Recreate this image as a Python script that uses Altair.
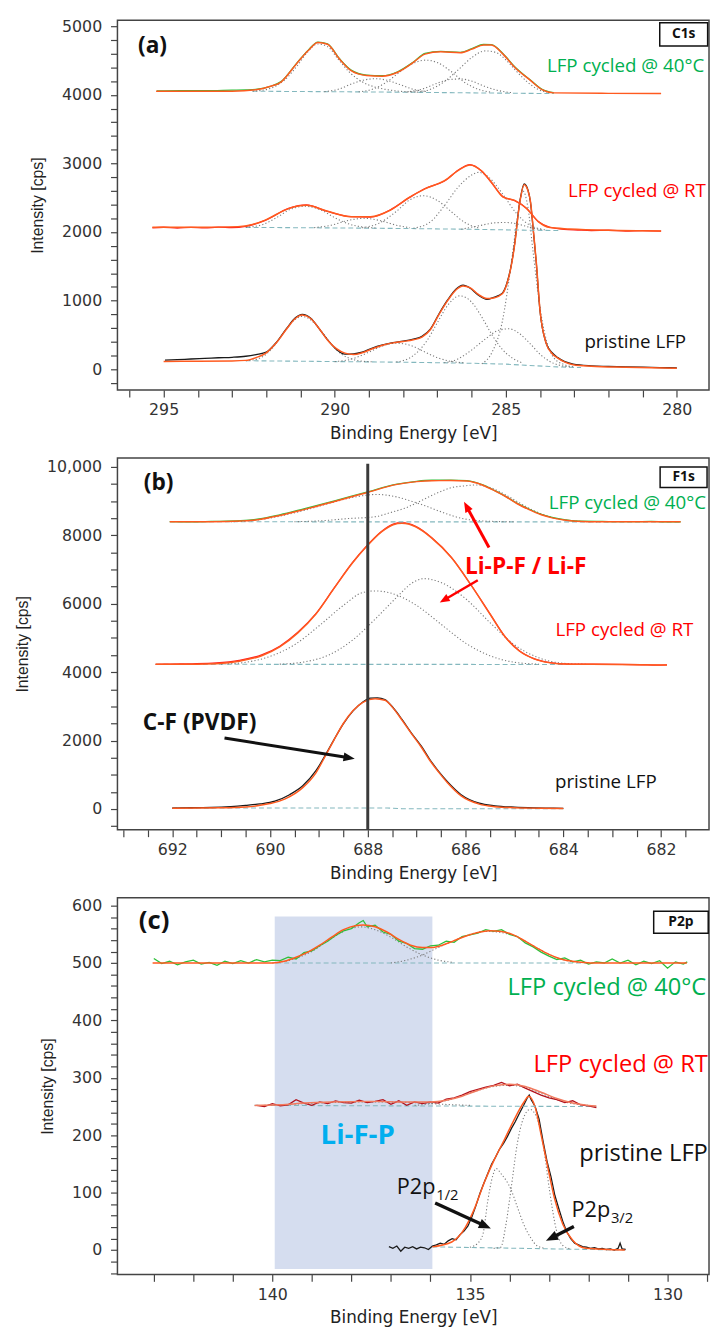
import altair as alt
import pandas as pd

FONT_AX = "DejaVu Sans"
FONT_TXT = "Open Sans"
C_FIT = "#ff5a1f"
C_GREEN = "#2fbf3a"
C_RED = "#ff1f1f"
C_DARKRED = "#b3121c"
C_RTFIT_C = "#f27a5e"
C_BLACK = "#1a1a1a"
C_COMP = "#7a7a7a"
C_BASE = "#84b8be"
T_GREEN = "#00b050"
T_RED = "#ff0000"
T_BLUE = "#00aeef"

# ---------------- Panel (a) C1s ----------------
A40_FIT = [(295.22, 4052), (294.0, 4051), (293.0, 4052), (292.26, 4076), (291.9, 4120), (291.57, 4186),
           (291.12, 4450), (290.78, 4641), (290.49, 4761), (290.21, 4737), (289.86, 4521), (289.52, 4353),
           (289.07, 4282), (288.61, 4272), (288.16, 4329), (287.7, 4473), (287.36, 4593), (286.9, 4626),
           (286.33, 4612), (285.99, 4665), (285.65, 4727), (285.42, 4727), (285.08, 4593), (284.74, 4401),
           (284.28, 4210), (283.94, 4076), (283.6, 4028), (282.0, 4021), (280.46, 4019)]
A40_DATA = [(295.2, 4058), (294.5, 4062), (293.8, 4060), (293.0, 4068), (292.6, 4072), (292.26, 4082),
            (291.9, 4120), (291.57, 4192), (291.12, 4455), (290.78, 4648), (290.49, 4768), (290.21, 4742),
            (289.86, 4525), (289.52, 4360), (289.07, 4288), (288.61, 4278), (288.16, 4336), (287.7, 4478),
            (287.36, 4605), (286.9, 4632), (286.33, 4618), (285.99, 4672), (285.65, 4733), (285.42, 4730),
            (285.08, 4598), (284.74, 4410), (284.28, 4215), (283.94, 4080), (283.6, 4030)]
A40_BASE = [(292.4, 4052), (290.0, 4045), (288.0, 4038), (286.0, 4028), (283.6, 4018)]
A40_COMPS = [
    [(292.4, 4052), (291.9, 4090), (291.5, 4200), (291.1, 4420), (290.8, 4620), (290.5, 4740), (290.2, 4700),
     (289.9, 4520), (289.55, 4320), (289.2, 4190), (288.8, 4110), (288.4, 4070), (288.0, 4048), (287.6, 4042)],
    [(290.3, 4046), (289.9, 4080), (289.5, 4160), (289.1, 4220), (288.8, 4235), (288.5, 4215), (288.1, 4150),
     (287.7, 4080), (287.3, 4045)],
    [(289.3, 4044), (288.9, 4080), (288.5, 4180), (288.1, 4330), (287.7, 4460), (287.35, 4505), (287.0, 4470),
     (286.6, 4340), (286.2, 4180), (285.8, 4080), (285.4, 4035)],
    [(287.9, 4040), (287.4, 4090), (287.0, 4170), (286.6, 4225), (286.3, 4230), (286.0, 4200), (285.6, 4120),
     (285.2, 4060), (284.8, 4030)],
    [(287.6, 4038), (287.2, 4080), (286.8, 4190), (286.4, 4360), (286.0, 4540), (285.6, 4640), (285.3, 4620),
     (285.0, 4510), (284.7, 4350), (284.4, 4200), (284.1, 4090), (283.8, 4035)],
]

ART_FIT = [(295.33, 2069), (294.0, 2070), (292.83, 2079), (292.4, 2110), (292.03, 2174), (291.35, 2342),
           (290.83, 2390), (290.21, 2303), (289.52, 2222), (288.95, 2222), (288.38, 2318), (287.81, 2510),
           (287.36, 2630), (286.79, 2749), (286.33, 2917), (286.05, 2978), (285.71, 2893), (285.42, 2726),
           (285.08, 2510), (284.74, 2461), (284.39, 2342), (284.05, 2151), (283.71, 2065), (283.14, 2045),
           (282.0, 2025), (280.46, 2016)]
ART_DATA = [(295.33, 2062), (295.0, 2070), (294.6, 2058), (294.2, 2068), (293.8, 2060), (293.4, 2072),
            (293.0, 2064), (292.6, 2082), (292.03, 2170), (291.35, 2345), (290.83, 2395), (290.21, 2300),
            (289.52, 2225), (288.95, 2218), (288.38, 2322), (287.81, 2505), (287.36, 2635), (286.79, 2745),
            (286.33, 2922), (286.05, 2982), (285.71, 2890), (285.42, 2722), (285.08, 2515), (284.74, 2458),
            (284.39, 2345), (284.05, 2155), (283.71, 2070), (283.3, 2040), (282.9, 2030), (282.5, 2022),
            (282.0, 2026), (281.5, 2015), (281.0, 2020), (280.46, 2012)]
ART_BASE = [(292.6, 2068), (290.0, 2060), (288.0, 2052), (286.0, 2040), (284.5, 2028), (283.4, 2022)]
ART_COMPS = [
    [(292.6, 2068), (292.1, 2110), (291.7, 2210), (291.3, 2330), (290.85, 2375), (290.4, 2320), (290.0, 2210),
     (289.6, 2120), (289.2, 2075), (288.8, 2060)],
    [(290.6, 2064), (290.1, 2100), (289.6, 2170), (289.15, 2200), (288.7, 2170), (288.2, 2100), (287.8, 2062)],
    [(289.2, 2062), (288.7, 2130), (288.2, 2300), (287.8, 2470), (287.4, 2530), (287.0, 2460), (286.6, 2300),
     (286.2, 2140), (285.8, 2060)],
    [(287.7, 2055), (287.2, 2150), (286.8, 2380), (286.4, 2650), (286.0, 2830), (285.8, 2870), (285.5, 2800),
     (285.1, 2560), (284.7, 2280), (284.3, 2100), (283.9, 2040)],
    [(286.3, 2040), (285.8, 2090), (285.3, 2135), (285.0, 2140), (284.6, 2110), (284.2, 2055), (283.8, 2030)],
]

APR_FIT = [(295.0, 115), (294.0, 118), (293.0, 122), (292.6, 130), (292.3, 170), (292.0, 240), (291.7, 390),
           (291.4, 590), (291.15, 740), (290.95, 790), (290.7, 740), (290.45, 590), (290.2, 420), (289.95, 300),
           (289.7, 235), (289.45, 215), (289.2, 240), (288.9, 300), (288.6, 350), (288.3, 385), (288.0, 405),
           (287.7, 430), (287.45, 470), (287.2, 580), (286.95, 800), (286.7, 1000), (286.45, 1160),
           (286.25, 1215), (286.05, 1190), (285.8, 1090), (285.55, 1030), (285.35, 1040), (285.1, 1100),
           (284.97, 1240), (284.85, 1480), (284.74, 1815), (284.6, 2400), (284.46, 2690), (284.35, 2600),
           (284.28, 2450), (284.18, 1950), (284.11, 1576), (284.0, 862), (283.82, 378), (283.65, 230),
           (283.48, 163), (283.03, 67), (282.5, 45), (281.5, 30), (280.0, 15)]
APR_DATA = [(294.96, 134), (294.6, 140), (294.2, 150), (293.8, 158), (293.4, 168), (293.0, 175), (292.6, 190),
            (292.3, 215), (292.0, 250), (291.7, 395), (291.4, 600), (291.15, 750), (290.95, 800), (290.7, 745),
            (290.45, 590), (290.2, 425), (289.95, 290), (289.7, 220), (289.45, 225), (289.2, 250), (288.9, 310),
            (288.6, 355), (288.3, 390), (288.0, 410), (287.7, 440), (287.45, 480), (287.2, 590), (286.95, 810),
            (286.7, 1010), (286.45, 1170), (286.25, 1225), (286.05, 1185), (285.8, 1080), (285.55, 1020),
            (285.35, 1050), (285.1, 1110), (284.97, 1250), (284.85, 1490), (284.74, 1830), (284.6, 2410),
            (284.46, 2700), (284.35, 2610), (284.28, 2440), (284.18, 1940), (284.11, 1560), (284.0, 850),
            (283.82, 380), (283.65, 245), (283.48, 170), (283.03, 75), (282.5, 50), (282.0, 42), (281.5, 35),
            (281.0, 30), (280.5, 25), (280.0, 20)]
APR_BASE = [(292.6, 125), (290.5, 115), (289.0, 108), (287.5, 100), (286.0, 88), (285.0, 75), (284.3, 55),
            (283.5, 35), (282.8, 25)]
APR_COMPS = [
    [(292.6, 125), (292.2, 160), (291.8, 320), (291.45, 560), (291.15, 730), (290.95, 770), (290.7, 720),
     (290.4, 560), (290.1, 370), (289.8, 220), (289.5, 150), (289.2, 118), (288.9, 110)],
    [(290.0, 112), (289.5, 150), (289.0, 250), (288.6, 340), (288.2, 380), (287.8, 350), (287.4, 260),
     (287.0, 170), (286.6, 115), (286.2, 95)],
    [(288.2, 105), (287.7, 200), (287.3, 420), (287.0, 680), (286.7, 930), (286.35, 1070), (286.0, 980),
     (285.7, 760), (285.4, 500), (285.1, 290), (284.8, 160), (284.5, 90)],
    [(286.8, 95), (286.4, 150), (286.0, 280), (285.6, 440), (285.2, 570), (284.9, 590), (284.6, 520),
     (284.3, 380), (284.0, 220), (283.7, 110), (283.4, 55), (283.1, 35)],
    [(285.7, 80), (285.4, 250), (285.1, 700), (284.85, 1500), (284.65, 2250), (284.5, 2600), (284.35, 2350),
     (284.2, 1700), (284.0, 900), (283.8, 400), (283.6, 170), (283.3, 70), (283.0, 35)],
]

# ---------------- Panel (b) F1s ----------------
B40_FIT = [(692.05, 8395), (691.2, 8398), (690.6, 8420), (690.26, 8455), (689.8, 8580), (689.31, 8752),
           (688.68, 8991), (688.04, 9240), (687.4, 9490), (687.0, 9570), (686.69, 9597), (686.3, 9600),
           (685.97, 9585), (685.66, 9472), (685.4, 9300), (685.18, 9135), (684.95, 8930), (684.7, 8752),
           (684.45, 8600), (684.23, 8510), (683.95, 8440), (683.75, 8415), (683.2, 8398), (681.6, 8394)]
B40_DATA = [(692.05, 8400), (691.6, 8392), (691.2, 8405), (690.6, 8428), (690.26, 8470), (689.8, 8600),
            (689.31, 8775), (688.68, 9010), (688.04, 9255), (687.4, 9495), (687.0, 9580), (686.69, 9610),
            (686.3, 9612), (685.97, 9596), (685.66, 9480), (685.4, 9305), (685.18, 9140), (684.95, 8940),
            (684.7, 8765), (684.45, 8612), (684.23, 8522), (683.95, 8450), (683.75, 8420), (683.2, 8405),
            (682.6, 8398), (682.2, 8410), (681.9, 8392), (681.6, 8396)]
B40_BASE = [(692.05, 8395), (681.6, 8394)]
B40_COMPS = [
    [(690.8, 8398), (690.3, 8440), (689.8, 8560), (689.3, 8730), (688.8, 8930), (688.3, 9110), (687.8, 9195),
     (687.4, 9120), (687.09, 8990), (686.8, 8850), (686.53, 8703), (686.03, 8481), (685.5, 8410), (685.0, 8396)],
    [(689.5, 8398), (688.9, 8430), (688.4, 8490), (687.87, 8540), (687.5, 8680), (687.23, 8800), (686.9, 9020),
     (686.59, 9231), (686.3, 9390), (686.03, 9444), (685.8, 9472), (685.5, 9400), (685.2, 9200), (684.9, 8950),
     (684.6, 8720), (684.3, 8550), (684.0, 8450), (683.6, 8405), (683.2, 8396)],
]

BRT_FIT = [(692.34, 4231), (691.5, 4235), (691.1, 4250), (690.63, 4320), (690.17, 4480), (689.8, 4740),
           (689.43, 5150), (689.06, 5700), (688.69, 6450), (688.31, 7200), (688.04, 7650), (687.72, 8100),
           (687.48, 8310), (687.3, 8350), (687.02, 8250), (686.69, 7920), (686.29, 7350), (685.89, 6550),
           (685.5, 5700), (685.2, 5050), (684.9, 4620), (684.6, 4390), (684.3, 4280), (684.0, 4240),
           (683.41, 4231), (681.88, 4211)]
BRT_DATA = [(692.34, 4228), (692.0, 4236), (691.6, 4245), (691.1, 4270), (690.63, 4345), (690.17, 4505),
            (689.8, 4760), (689.43, 5165), (689.06, 5710), (688.69, 6455), (688.31, 7210), (688.04, 7660),
            (687.72, 8115), (687.48, 8330), (687.3, 8370), (687.02, 8262), (686.69, 7930), (686.29, 7358),
            (685.89, 6556), (685.5, 5705), (685.2, 5055), (684.9, 4628), (684.6, 4398), (684.3, 4286),
            (684.0, 4245), (683.41, 4236), (682.8, 4228), (682.4, 4218), (682.1, 4205), (681.88, 4212)]
BRT_BASE = [(692.34, 4231), (683.41, 4226)]
BRT_COMPS = [
    [(691.0, 4235), (690.5, 4290), (690.0, 4460), (689.5, 4800), (689.0, 5350), (688.5, 5950), (688.1, 6330),
     (687.85, 6375), (687.5, 6300), (687.0, 5950), (686.5, 5400), (686.0, 4850), (685.5, 4480), (685.0, 4290),
     (684.5, 4235)],
    [(689.8, 4235), (689.3, 4300), (688.8, 4500), (688.3, 4950), (687.85, 5550), (687.4, 6200), (687.1, 6600),
     (686.85, 6735), (686.5, 6620), (686.0, 6150), (685.5, 5450), (685.0, 4800), (684.5, 4420), (684.0, 4260),
     (683.5, 4232)],
]

BPR_FIT = [(692.0, 25), (691.0, 35), (690.5, 60), (690.26, 96), (690.0, 160), (689.7, 290), (689.33, 625),
           (689.06, 1060), (688.85, 1600), (688.69, 2020), (688.5, 2500), (688.3, 2880), (688.1, 3120),
           (687.85, 3225), (687.65, 3180), (687.48, 2950), (687.3, 2600), (687.11, 2210), (686.9, 1800),
           (686.74, 1440), (686.55, 1080), (686.37, 770), (686.09, 385), (685.72, 144), (685.4, 70),
           (685.0, 40), (684.5, 25), (684.0, 18)]
BPR_DATA = [(692.0, 30), (691.6, 38), (691.2, 45), (690.8, 70), (690.5, 105), (690.2, 150), (689.9, 230),
            (689.6, 420), (689.33, 680), (689.06, 1120), (688.85, 1620), (688.69, 2030), (688.5, 2490),
            (688.3, 2870), (688.1, 3130), (687.95, 3240), (687.8, 3250), (687.65, 3200), (687.48, 2960),
            (687.3, 2620), (687.11, 2230), (686.9, 1830), (686.74, 1470), (686.55, 1100), (686.37, 800),
            (686.09, 420), (685.72, 170), (685.4, 95), (685.0, 55), (684.6, 35), (684.2, 25), (684.0, 20)]
BPR_BASE = [(692.0, 30), (687.6, 30), (687.3, 10), (684.0, 10)]
B_VLINE = [(688.0, -605, 10090)]

# ---------------- Panel (c) P2p ----------------
C40_DATA = [(143.0, 508), (142.8, 499), (142.6, 503), (142.4, 497), (142.2, 502), (142.0, 505), (141.8, 498),
            (141.6, 501), (141.4, 496), (141.2, 503), (141.0, 499), (140.8, 504), (140.6, 500), (140.4, 506),
            (140.2, 502), (140.0, 505), (139.8, 504), (139.6, 510), (139.4, 507), (139.2, 518), (139.0, 521),
            (138.8, 530), (138.6, 538), (138.4, 548), (138.2, 556), (138.0, 560), (137.8, 570), (137.7, 574),
            (137.6, 563), (137.4, 566), (137.2, 554), (137.0, 550), (136.8, 538), (136.6, 534), (136.4, 525),
            (136.2, 524), (136.0, 530), (135.8, 531), (135.6, 538), (135.4, 536), (135.2, 546), (135.0, 549),
            (134.8, 552), (134.6, 558), (134.4, 555), (134.2, 558), (134.0, 550), (133.8, 546), (133.6, 535),
            (133.4, 528), (133.2, 519), (133.0, 512), (132.8, 506), (132.6, 509), (132.4, 502), (132.2, 505),
            (132.0, 498), (131.8, 502), (131.6, 500), (131.4, 507), (131.2, 500), (131.0, 505), (130.8, 497),
            (130.6, 503), (130.4, 499), (130.2, 504), (130.0, 491), (129.8, 502), (129.6, 498), (129.5, 502)]
C40_FIT = [(143.03, 500), (140.0, 500), (139.7, 503), (139.4, 510), (139.1, 519), (138.8, 531), (138.5, 545),
           (138.2, 558), (137.9, 565), (137.7, 566), (137.4, 563), (137.1, 554), (136.8, 541), (136.5, 531),
           (136.2, 527), (135.96, 527), (135.7, 531), (135.4, 539), (135.1, 547), (134.8, 553), (134.5, 556),
           (134.2, 555), (133.9, 549), (133.6, 538), (133.3, 526), (133.0, 515), (132.7, 507), (132.3, 502),
           (131.95, 500), (129.51, 500)]
C40_BASE = [(139.9, 500), (131.9, 500)]
C40_COMPS = [
    [(140.0, 500), (139.5, 506), (139.0, 520), (138.5, 543), (138.1, 558), (137.75, 563), (137.4, 558),
     (137.0, 545), (136.6, 528), (136.2, 514), (135.8, 505), (135.4, 501)],
    [(137.0, 500), (136.6, 505), (136.2, 514), (135.8, 527), (135.4, 539), (135.0, 550), (134.6, 555),
     (134.2, 553), (133.8, 545), (133.4, 530), (133.0, 515), (132.6, 505), (132.2, 501)],
]

CRT_DATA = [(140.4, 252), (140.2, 250), (140.0, 255), (139.8, 251), (139.6, 253), (139.4, 262), (139.2, 256),
            (139.0, 252), (138.8, 258), (138.6, 255), (138.4, 260), (138.2, 257), (138.0, 256), (137.8, 261),
            (137.6, 257), (137.4, 259), (137.2, 262), (137.0, 254), (136.8, 260), (136.6, 252), (136.4, 258),
            (136.2, 255), (136.0, 258), (135.8, 256), (135.6, 263), (135.4, 265), (135.2, 270), (135.0, 276),
            (134.8, 280), (134.6, 284), (134.4, 287), (134.2, 292), (134.0, 286), (133.8, 289), (133.6, 282),
            (133.4, 276), (133.2, 270), (133.0, 265), (132.8, 262), (132.6, 257), (132.4, 260), (132.2, 253),
            (132.0, 251), (131.8, 248)]
CRT_FIT = [(140.45, 252), (139.8, 253), (139.2, 256), (138.5, 258), (137.5, 259), (136.6, 258), (136.0, 258),
           (135.6, 261), (135.2, 268), (134.8, 278), (134.4, 286), (134.0, 289), (133.6, 285), (133.2, 275),
           (132.8, 264), (132.4, 256), (132.0, 252), (131.8, 251)]
CRT_BASE = [(140.45, 252), (131.8, 250)]
CRT_COMPS = [
    [(140.2, 252), (139.5, 254), (138.5, 257), (137.5, 258), (136.5, 257), (135.7, 254), (135.0, 252)],
    [(136.4, 252), (135.9, 256), (135.4, 264), (134.9, 276), (134.4, 285), (134.0, 287), (133.6, 283),
     (133.2, 273), (132.8, 262), (132.4, 255), (132.0, 252)],
]

CPR_DATA = [(137.05, 6), (136.95, 3), (136.85, 7), (136.75, -2), (136.65, 5), (136.55, 3), (136.45, 6),
            (136.35, 2), (136.25, 5), (136.15, 4), (136.05, 1), (135.95, 7), (135.85, 9), (135.75, 12),
            (135.65, 10), (135.55, 16), (135.45, 20), (135.35, 18), (135.25, 27), (135.15, 33), (135.05, 42),
            (134.95, 58), (134.85, 77), (134.75, 98), (134.65, 116), (134.55, 133), (134.45, 150), (134.35, 162),
            (134.25, 176), (134.15, 186), (134.05, 198), (133.95, 212), (133.85, 224), (133.75, 238),
            (133.65, 251), (133.55, 265), (133.5, 270), (133.45, 262), (133.35, 250), (133.25, 228),
            (133.15, 190), (133.05, 155), (132.95, 128), (132.85, 95), (132.75, 72), (132.65, 50), (132.55, 32),
            (132.45, 20), (132.35, 12), (132.25, 9), (132.15, 6), (132.05, 5), (131.95, 3), (131.85, 4),
            (131.75, 2), (131.65, 3), (131.55, 1), (131.45, 2), (131.35, 0), (131.25, 3), (131.2, 12),
            (131.15, 2), (131.06, 1)]
CPR_FIT = [(135.95, 5.6), (135.46, 14), (135.12, 39), (134.88, 73), (134.63, 119), (134.38, 158), (134.13, 192),
           (133.89, 226), (133.64, 257), (133.51, 268), (133.35, 249), (133.19, 198), (133.02, 141),
           (132.86, 90), (132.65, 45), (132.4, 17), (132.07, 3), (131.08, 0)]
CPR_BASE = [(135.95, 5.6), (131.08, 0)]
CPR_COMPS = [
    [(135.0, 5), (134.8, 12), (134.67, 28), (134.55, 85), (134.42, 130), (134.34, 142), (134.2, 132),
     (133.97, 107), (133.8, 75), (133.64, 45), (133.45, 20), (133.31, 8), (133.1, 3)],
    [(134.4, 3), (134.22, 5), (134.1, 40), (133.97, 101), (133.8, 186), (133.64, 231), (133.48, 245),
     (133.31, 231), (133.14, 180), (132.98, 101), (132.81, 34), (132.65, 8), (132.45, 2)],
]
C_BAND = [(139.94, 135.95, -33, 581)]

# ---------------- helpers ----------------
def frame(pairs):
    return pd.DataFrame(pairs, columns=["x", "y"])


def encodings(xdom, ydom, xticks, yticks, xexpr, yexpr):
    X = alt.X("x:Q", scale=alt.Scale(domain=xdom, reverse=True, nice=False, zero=False),
              axis=alt.Axis(title="Binding Energy [eV]", values=xticks, labelExpr=xexpr,
                            labelOverlap=False, labelFlush=False))
    Y = alt.Y("y:Q", scale=alt.Scale(domain=ydom, nice=False, zero=False),
              axis=alt.Axis(title="Intensity [cps]", values=yticks, labelExpr=yexpr,
                            labelOverlap=False, labelFlush=False, titleFont="Liberation Sans",
                            titleFontSize=16, titlePadding=16))
    return X, Y


def line(pairs, X, Y, color, width=1.2, dash=None, interp="linear"):
    props = dict(color=color, strokeWidth=width, interpolate=interp, clip=True)
    if dash is not None:
        props["strokeDash"] = dash
    return alt.Chart(frame(pairs)).mark_line(**props).encode(x=X, y=Y)


def spectrum(X, Y, data, fit, base, comps, data_color, fit_color=C_FIT, data_interp="monotone"):
    layers = [line(base, X, Y, C_BASE, 1.1, [5, 3])]
    for c in comps:
        layers.append(line(c, X, Y, C_COMP, 1.1, [1.2, 2.2], "monotone"))
    layers.append(line(data, X, Y, data_color, 1.3, None, data_interp))
    layers.append(line(fit, X, Y, fit_color, 1.5, None, "monotone"))
    return layers


def label(x, y, t, X, Y, color, size, weight="normal", align="left", font=FONT_TXT, dx=0, dy=0):
    df = pd.DataFrame([(x, y, t)], columns=["x", "y", "t"])
    return alt.Chart(df).mark_text(color=color, fontSize=size, fontWeight=weight, align=align,
                                   baseline="middle", font=font, dx=dx, dy=dy).encode(x=X, y=Y, text="t:N")


def box(x1, x2, y1, y2, t, X, Y):
    df = pd.DataFrame([(x1, x2, y1, y2)], columns=["x", "x2", "y", "y2"])
    rect = alt.Chart(df).mark_rect(fill="white", stroke="#111", strokeWidth=1.5).encode(
        x=X, x2="x2:Q", y=Y, y2="y2:Q")
    txt = label((x1 + x2) / 2, (y1 + y2) / 2, t, X, Y, "#111", 14, "bold", "center")
    return [rect, txt]


def arrow(tail, head, angle, color, width, size, X, Y):
    shaft = alt.Chart(frame([tail, head])).mark_line(color=color, strokeWidth=width).encode(x=X, y=Y)
    tip = alt.Chart(frame([head])).mark_point(shape="M0,-1L0.8,1L-0.8,1Z", filled=True, color=color,
                                              size=size, angle=angle, opacity=1).encode(x=X, y=Y)
    return [shaft, tip]


W = 600

# ---------------- panel (a) ----------------
XA, YA = encodings([279.06, 296.35], [-302, 5086], list(range(280, 297)), list(range(-200, 5001, 200)),
                   "datum.value % 5 === 0 ? format(datum.value, 'd') : ''",
                   "datum.value % 1000 === 0 ? format(datum.value, 'd') : ''")
la = []
la += spectrum(XA, YA, APR_DATA, APR_FIT, APR_BASE, APR_COMPS, C_BLACK)
la += spectrum(XA, YA, ART_DATA, ART_FIT, ART_BASE, ART_COMPS, C_RED)
la += spectrum(XA, YA, A40_DATA, A40_FIT, A40_BASE, A40_COMPS, C_GREEN)
la.append(label(295.75, 4713, "(a)", XA, YA, "#111", 23, "bold"))
la.append(label(279.2, 4425, "LFP cycled @ 40°C", XA, YA, T_GREEN, 19, align="right"))
la.append(label(279.15, 2590, "LFP cycled @ RT", XA, YA, T_RED, 19, align="right"))
la.append(label(279.73, 402, "pristine LFP", XA, YA, "#111", 19, align="right"))
la += box(280.5, 279.1, 5050, 4710, "C1s", XA, YA)
panel_a = alt.layer(*la).properties(width=W, height=375)

# ---------------- panel (b) ----------------
XB, YB = encodings([681.02, 693.12], [-605, 10259], [681.5 + 0.5 * i for i in range(24)],
                   list(range(-500, 10001, 500)),
                   "datum.value % 2 === 0 ? format(datum.value, 'd') : ''",
                   "datum.value === 10000 ? '10,000' : (datum.value % 2000 === 0 ? format(datum.value, 'd') : '')")
lb = []
lb += spectrum(XB, YB, BPR_DATA, BPR_FIT, BPR_BASE, [], C_BLACK)
lb += spectrum(XB, YB, BRT_DATA, BRT_FIT, BRT_BASE, BRT_COMPS, C_RED)
lb += spectrum(XB, YB, B40_DATA, B40_FIT, B40_BASE, B40_COMPS, C_GREEN)
vdf = pd.DataFrame(B_VLINE, columns=["x", "y", "y2"])
lb.append(alt.Chart(vdf).mark_rule(color="#3a3a3a", strokeWidth=3).encode(x=XB, y=YB, y2="y2:Q"))
lb += arrow((685.52, 7645), (685.98, 8847), 331, T_RED, 3, 110, XB, YB)
lb += arrow((685.75, 6686), (686.44, 6110), 240, T_RED, 2.5, 100, XB, YB)
lb += arrow((690.93, 2075), (688.38, 1499), 99, "#111", 3, 130, XB, YB)
lb.append(label(692.58, 9519, "(b)", XB, YB, "#111", 23, "bold"))
lb.append(label(681.08, 8942, "LFP cycled @ 40°C", XB, YB, T_GREEN, 19, align="right"))
lb.append(label(681.34, 5245, "LFP cycled @ RT", XB, YB, T_RED, 19, align="right"))
lb.append(label(682.09, 798, "pristine LFP", XB, YB, "#111", 19, align="right"))
lb.append(label(684.77, 7069, "Li-P-F / Li-F", XB, YB, T_RED, 23, "bold", "center"))
lb.append(label(692.6, 2507, "C-F (PVDF)", XB, YB, "#111", 23, "bold"))
lb += box(682.02, 681.06, 10000, 9400, "F1s", XB, YB)
panel_b = alt.layer(*lb).properties(width=W, height=377)

# ---------------- panel (c) ----------------
XC, YC = encodings([128.95, 143.92], [-42.4, 613.6], list(range(129, 144)), list(range(-40, 601, 20)),
                   "datum.value % 5 === 0 ? format(datum.value, 'd') : ''",
                   "datum.value % 100 === 0 ? format(datum.value, 'd') : ''")
lc = []
bdf = pd.DataFrame(C_BAND, columns=["x", "x2", "y", "y2"])
lc.append(alt.Chart(bdf).mark_rect(color="#d5ddef").encode(x=XC, x2="x2:Q", y=YC, y2="y2:Q"))
lc += spectrum(XC, YC, CPR_DATA, CPR_FIT, CPR_BASE, CPR_COMPS, C_BLACK, data_interp="linear")
lc += spectrum(XC, YC, CRT_DATA, CRT_FIT, CRT_BASE, CRT_COMPS, C_DARKRED, C_RTFIT_C, data_interp="linear")
lc += spectrum(XC, YC, C40_DATA, C40_FIT, C40_BASE, C40_COMPS, C_GREEN, data_interp="linear")
lc += arrow((135.88, 82), (134.61, 42), 114, "#111", 3.5, 150, XC, YC)
lc += arrow((132.37, 41), (132.94, 21), 244, "#111", 3.5, 150, XC, YC)
lc.append(label(143.38, 573, "(c)", XC, YC, "#111", 26, "bold"))
lc.append(label(129.02, 456, "LFP cycled @ 40°C", XC, YC, T_GREEN, 24, align="right"))
lc.append(label(128.98, 323, "LFP cycled @ RT", XC, YC, T_RED, 24, align="right"))
lc.append(label(128.98, 167, "pristine LFP", XC, YC, "#111", 24, align="right"))
lc.append(label(137.84, 198, "Li-F-P", XC, YC, T_BLUE, 28, "bold", "center"))
lc.append(label(136.85, 110, "P2p", XC, YC, "#111", 22))
lc.append(label(136.85, 110, "1/2", XC, YC, "#111", 15, dx=40, dy=8))
lc.append(label(132.43, 70, "P2p", XC, YC, "#111", 22))
lc.append(label(132.43, 70, "3/2", XC, YC, "#111", 15, dx=40, dy=8))
lc += box(130.35, 128.97, 590, 552, "P2p", XC, YC)
panel_c = alt.layer(*lc).properties(width=W, height=382)

chart = alt.vconcat(panel_a, panel_b, panel_c, spacing=15).properties(
    padding={"left": 6, "top": 0, "right": 0, "bottom": 0}
).configure_view(
    stroke="#444", strokeWidth=1.5
).configure_axis(
    labelFont=FONT_AX, labelFontSize=16, labelColor="#333", titleFont=FONT_AX, titleFontSize=17,
    titleFontWeight="normal", titleColor="#222", tickColor="#444", tickSize=7, tickWidth=1.2,
    domain=False, grid=False, labelPadding=9, titlePadding=8
).configure_axisX(labelPadding=5)

chart.save("out.html", embed_options={"renderer": "svg", "actions": False})
